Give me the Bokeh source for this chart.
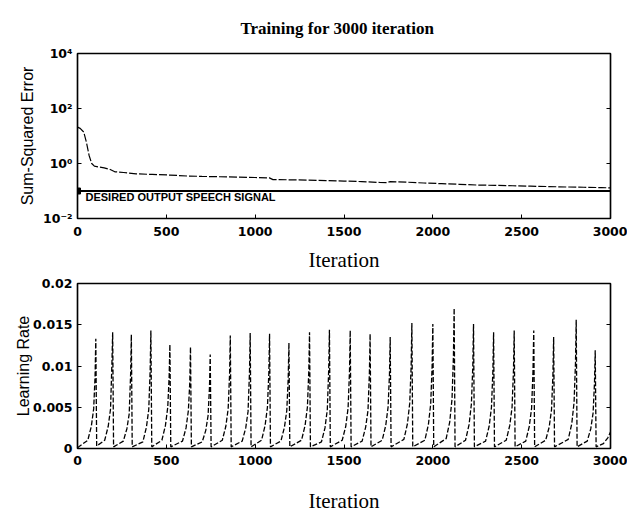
from bokeh.plotting import figure
from bokeh.layouts import column
from bokeh.models import FixedTicker, LinearAxis, LogAxis, NumeralTickFormatter, Title
from bokeh.core.properties import value
from bokeh.embed import file_html
from bokeh.resources import INLINE

# ---------------- data ----------------
title_text = "Training for 3000 iteration"
x_ticks = [0, 500, 1000, 1500, 2000, 2500, 3000]
err_ticks = [0.01, 1, 100, 10000]
err_tick_labels = {0.01: "10\u207b\u00b2", 1: "10\u2070", 100: "10\u00b2", 10000: "10\u2074"}
lr_ticks = [0, 0.005, 0.01, 0.015, 0.02]

err_iter = [0, 15, 35, 50, 65, 80, 95, 120, 150, 180, 210, 260, 330, 420, 520, 620, 700,
            800, 900, 1000, 1080, 1100, 1200, 1300, 1400, 1500, 1600, 1700, 1740, 1760,
            1850, 1950, 2050, 2150, 2250, 2350, 2450, 2550, 2650, 2750, 2850, 2950, 3000]
err_val = [21, 19, 14, 6, 2.0, 1.0, 0.8, 0.75, 0.69, 0.62, 0.5, 0.47, 0.42, 0.40, 0.38, 0.35, 0.34,
           0.33, 0.32, 0.31, 0.30, 0.26, 0.255, 0.25, 0.24, 0.23, 0.22, 0.205, 0.20, 0.22,
           0.21, 0.195, 0.185, 0.175, 0.165, 0.16, 0.155, 0.15, 0.145, 0.14, 0.137, 0.133, 0.13]

desired_level = 0.1
desired_label = "DESIRED OUTPUT SPEECH SIGNAL"

lr_iter = [0, 58, 78, 91, 99, 103, 108,
           153, 173, 186, 194, 198, 203,
           258, 278, 291, 299, 303, 308,
           368, 388, 401, 409, 413, 418,
           475, 495, 508, 516, 520, 525,
           591, 611, 624, 632, 636, 641,
           702, 722, 735, 743, 747, 752,
           815, 835, 848, 856, 860, 865,
           927, 947, 960, 968, 972, 977,
           1036, 1056, 1069, 1077, 1081, 1086,
           1145, 1165, 1178, 1186, 1190, 1195,
           1261, 1281, 1294, 1302, 1306, 1311,
           1373, 1393, 1406, 1414, 1418, 1423,
           1490, 1510, 1523, 1531, 1535, 1540,
           1602, 1622, 1635, 1643, 1647, 1652,
           1715, 1735, 1748, 1756, 1760, 1765,
           1837, 1857, 1870, 1878, 1882, 1887,
           1955, 1975, 1988, 1996, 2000, 2005,
           2075, 2095, 2108, 2116, 2120, 2125,
           2184, 2204, 2217, 2225, 2229, 2234,
           2297, 2317, 2330, 2338, 2342, 2347,
           2413, 2433, 2446, 2454, 2458, 2463,
           2523, 2543, 2556, 2564, 2568, 2573,
           2635, 2655, 2668, 2676, 2680, 2685,
           2762, 2782, 2795, 2803, 2807, 2812,
           2869, 2889, 2902, 2910, 2914, 2919,
           2960, 2985, 3000]
lr_val = [0.0001, 0.0010, 0.0027, 0.0048, 0.0088, 0.0133, 0.0003,
          0.0010, 0.0027, 0.0048, 0.0105, 0.0141, 0.0002,
          0.0009, 0.0024, 0.0042, 0.0090, 0.0138, 0.0002,
          0.0008, 0.0026, 0.0047, 0.0095, 0.0143, 0.0002,
          0.0010, 0.0028, 0.0050, 0.0088, 0.0126, 0.0002,
          0.0009, 0.0025, 0.0046, 0.0080, 0.0123, 0.0002,
          0.0008, 0.0022, 0.0040, 0.0075, 0.0114, 0.0002,
          0.0010, 0.0027, 0.0048, 0.0090, 0.0137, 0.0002,
          0.0009, 0.0025, 0.0045, 0.0092, 0.0140, 0.0002,
          0.0010, 0.0028, 0.0050, 0.0092, 0.0139, 0.0002,
          0.0009, 0.0026, 0.0046, 0.0085, 0.0128, 0.0002,
          0.0010, 0.0028, 0.0050, 0.0095, 0.0141, 0.0002,
          0.0008, 0.0025, 0.0047, 0.0096, 0.0144, 0.0002,
          0.0010, 0.0027, 0.0049, 0.0094, 0.0143, 0.0002,
          0.0009, 0.0026, 0.0046, 0.0092, 0.0139, 0.0002,
          0.0010, 0.0028, 0.0050, 0.0090, 0.0135, 0.0002,
          0.0011, 0.0030, 0.0055, 0.0100, 0.0152, 0.0002,
          0.0010, 0.0029, 0.0054, 0.0100, 0.0151, 0.0002,
          0.0012, 0.0032, 0.0060, 0.0112, 0.0170, 0.0002,
          0.0010, 0.0029, 0.0054, 0.0100, 0.0151, 0.0002,
          0.0009, 0.0027, 0.0050, 0.0094, 0.0141, 0.0002,
          0.0010, 0.0028, 0.0050, 0.0095, 0.0143, 0.0002,
          0.0009, 0.0027, 0.0049, 0.0095, 0.0143, 0.0002,
          0.0010, 0.0026, 0.0047, 0.0090, 0.0135, 0.0002,
          0.0011, 0.0030, 0.0056, 0.0104, 0.0156, 0.0002,
          0.0009, 0.0024, 0.0043, 0.0080, 0.0119, 0.0002,
          0.0006, 0.0013, 0.0020]

x_label = "Iteration"
err_label = "Sum-Squared Error"
lr_label = "Learning Rate"

# ---------------- styling helpers ----------------
SANS = "Liberation Sans"
TICKFONT = "DejaVu Sans"
SERIF = "Liberation Serif"


def style_axis(ax, show_labels=True, standoff=5):
    ax.major_tick_in = 4
    ax.major_tick_out = 0
    ax.minor_tick_in = 0
    ax.minor_tick_out = 0
    ax.major_tick_line_color = "black"
    ax.major_tick_line_width = 1
    ax.axis_line_color = "black"
    ax.axis_line_width = 1.2
    ax.major_label_text_font = TICKFONT
    ax.major_label_text_font_style = "bold"
    ax.major_label_text_font_size = "12.5px"
    ax.major_label_text_color = "black" if show_labels else None
    ax.major_label_standoff = standoff
    ax.axis_label_text_color = "black"


def base_fig(height, border_top, border_bottom, **kw):
    p = figure(width=627, height=height, output_backend="svg", toolbar_location=None,
               x_range=(0, 3000), min_border_left=77, min_border_right=17,
               min_border_top=border_top, min_border_bottom=border_bottom, **kw)
    p.xgrid.visible = False
    p.ygrid.visible = False
    p.outline_line_color = "black"
    p.outline_line_width = 1.5
    p.background_fill_color = "white"
    p.border_fill_color = "white"
    return p


# ---------------- top figure ----------------
p1 = base_fig(276, 51, 58, y_axis_type="log", y_range=(0.01, 10000))
p1.title = Title(text=title_text, text_font=SERIF, text_font_size="17px",
                 text_font_style="bold", align="left", offset=163, standoff=32,
                 text_line_height=0.8, text_color="black")

p1.line(err_iter, err_val, line_color="black", line_width=1.2, line_dash="8 2")
p1.line([0, 3000], [desired_level, desired_level], line_color="black", line_width=2)
p1.scatter([0], [desired_level], marker="square", size=6, color="black")
p1.text(x=[45], y=[desired_level], text=[desired_label], text_font=value(SANS),
        text_font_style="bold", text_font_size="11px", text_baseline="top",
        text_align="left", y_offset=0, text_color="black")

p1.xaxis.ticker = FixedTicker(ticks=x_ticks)
p1.yaxis.ticker = FixedTicker(ticks=err_ticks)
p1.yaxis.major_label_overrides = err_tick_labels
for ax in p1.xaxis:
    style_axis(ax, standoff=8)
for ax in p1.yaxis:
    style_axis(ax)
p1.xaxis.axis_label = x_label
p1.xaxis.axis_label_text_font = SERIF
p1.xaxis.axis_label_text_font_size = "21px"
p1.xaxis.axis_label_text_font_style = "normal"
p1.xaxis.axis_label_standoff = 9
p1.yaxis.axis_label = err_label
p1.yaxis.axis_label_text_font = SANS
p1.yaxis.axis_label_text_font_size = "16px"
p1.yaxis.axis_label_text_font_style = "normal"
p1.yaxis.axis_label_standoff = 4

r1 = LogAxis(ticker=FixedTicker(ticks=err_ticks))
style_axis(r1, show_labels=False)
p1.add_layout(r1, "right")

# ---------------- bottom figure ----------------
p2 = base_fig(239, 7, 64, y_range=(0, 0.02))
p2.line(lr_iter, lr_val, line_color="black", line_width=1.3, line_dash="5 2")

p2.xaxis.ticker = FixedTicker(ticks=x_ticks)
p2.yaxis.ticker = FixedTicker(ticks=lr_ticks)
p2.yaxis.formatter = NumeralTickFormatter(format="0.[000]")
for ax in p2.xaxis:
    style_axis(ax, standoff=7)
for ax in p2.yaxis:
    style_axis(ax)
p2.xaxis.axis_label = x_label
p2.xaxis.axis_label_text_font = SERIF
p2.xaxis.axis_label_text_font_size = "21px"
p2.xaxis.axis_label_text_font_style = "normal"
p2.xaxis.axis_label_standoff = 21
p2.yaxis.axis_label = lr_label
p2.yaxis.axis_label_text_font = SANS
p2.yaxis.axis_label_text_font_size = "16px"
p2.yaxis.axis_label_text_font_style = "normal"
p2.yaxis.axis_label_standoff = -2

r2 = LinearAxis(ticker=FixedTicker(ticks=lr_ticks))
style_axis(r2, show_labels=False)
p2.add_layout(r2, "right")

layout = column(p1, p2, spacing=0)
open("out.html", "w").write(file_html(layout, INLINE))
